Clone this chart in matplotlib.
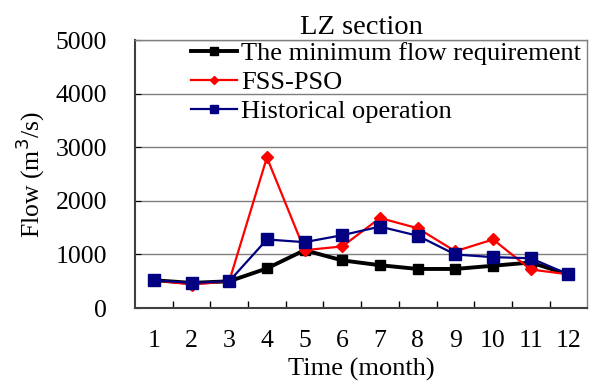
import matplotlib
matplotlib.use('Agg')
import matplotlib.pyplot as plt
import numpy as np

months = [1, 2, 3, 4, 5, 6, 7, 8, 9, 10, 11, 12]
min_flow = [520, 470, 500, 740, 1080, 890, 800, 730, 730, 790, 850, 630]
fss_pso = [520, 440, 500, 2810, 1080, 1150, 1680, 1490, 1060, 1280, 720, 630]
historical = [520, 470, 500, 1280, 1230, 1360, 1520, 1350, 1000, 950, 930, 630]

plt.rcParams['font.family'] = ['Liberation Serif', 'DejaVu Serif']

fig = plt.figure(figsize=(5.92, 3.89), dpi=100)
ax = fig.add_axes([0.228, 0.208, 0.764, 0.689])

ax.plot(months, min_flow, color='black', marker='s', markersize=7.5, lw=2.8,
        label='The minimum flow requirement', zorder=3)
ax.plot(months, fss_pso, color='#ff0000', marker='D', markersize=6.5, lw=1.6,
        label='FSS-PSO', zorder=4)
ax.plot(months, historical, color='#000080', marker='s', markersize=9, lw=1.6,
        label='Historical operation', zorder=5)

ax.set_xlim(0.5, 12.5)
ax.set_ylim(0, 5000)
ax.set_yticks([0, 1000, 2000, 3000, 4000, 5000])
ax.set_xticks(months)
ax.set_xticks(np.arange(1.5, 12.5, 1), minor=True)
ax.tick_params(axis='x', which='major', length=0, labelsize=18.5, pad=16)
ax.tick_params(axis='x', which='minor', direction='in', length=5, width=1)
ax.tick_params(axis='y', direction='in', length=4, labelsize=18.5, pad=20)
ax.yaxis.grid(True, color='#7f7f7f', lw=1)
ax.set_axisbelow(True)
for s in ['top', 'right']:
    ax.spines[s].set_color('#7f7f7f')
    ax.spines[s].set_linewidth(1)
for s in ['left', 'bottom']:
    ax.spines[s].set_color('#404040')
    ax.spines[s].set_linewidth(1.5)

ax.set_title('LZ section', fontsize=20.5, pad=4)
ax.set_xlabel('Time (month)', fontsize=19, labelpad=4)
ax.set_ylabel('Flow (m$^3$/s)', fontsize=18.5, labelpad=6)

ax.legend(loc='upper right', bbox_to_anchor=(0.99, 1.0), frameon=False,
          fontsize=19, handlelength=1.75, handletextpad=0.15, labelspacing=0.22,
          borderaxespad=0.0, borderpad=0.05, markerscale=0.7)

fig.savefig('out.png', dpi=100)
